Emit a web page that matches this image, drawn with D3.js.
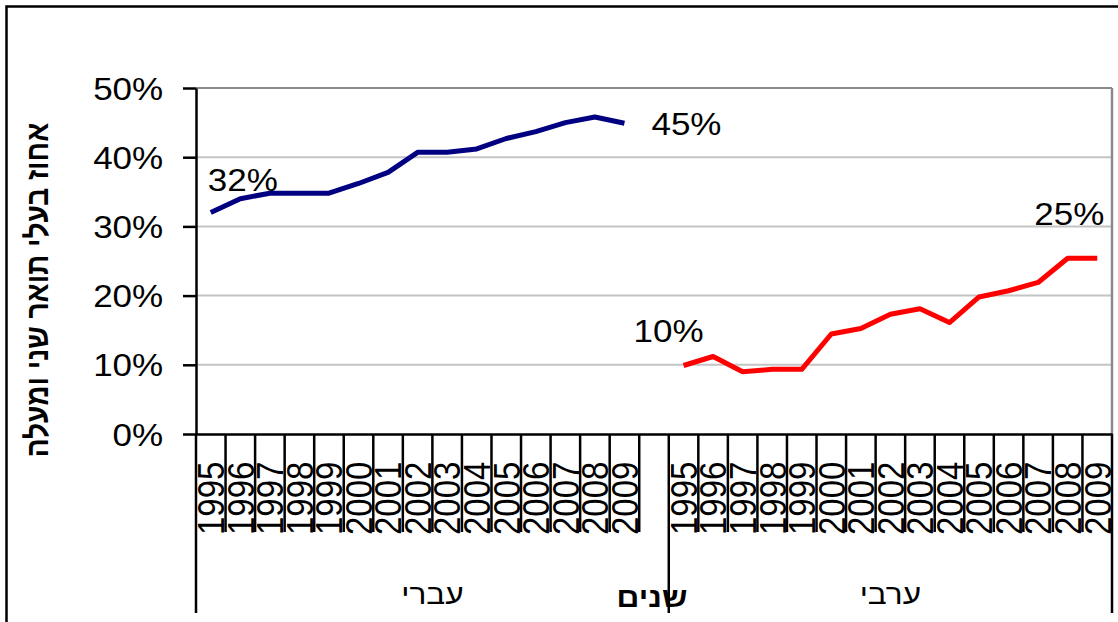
<!DOCTYPE html>
<html>
<head>
<meta charset="utf-8">
<script src="https://cdn.jsdelivr.net/npm/d3@7"></script>
<style>
  body { margin: 0; background: #fff; }
  text { font-family: "Liberation Sans", Arial, sans-serif; fill: #000; }
</style>
</head>
<body>
<div id="chart"></div>
<script>
// years on the category axis (same for both groups)
var years = ["1995","1996","1997","1998","1999","2000","2001","2002",
             "2003","2004","2005","2006","2007","2008","2009"];

// group names
var groupNames = ["עברי", "ערבי"];

// share with 2nd degree and above
var jewishValues = [0.320, 0.340, 0.348, 0.348, 0.348, 0.362, 0.378, 0.407,
                    0.407, 0.412, 0.427, 0.437, 0.450, 0.458, 0.449];
var arabValues   = [0.099, 0.112, 0.090, 0.0935, 0.0935, 0.1445, 0.1525, 0.173,
                    0.181, 0.161, 0.198, 0.207, 0.219, 0.254, 0.254];

var yTicks = [0, 0.1, 0.2, 0.3, 0.4, 0.5];

var yTitle = "אחוז בעלי תואר  שני ומעלה";
var xTitle = "שנים";

var W = 1118, H = 622;
var plot = {left: 196, right: 1112, top: 88, bottom: 434};
var sx = 1.13; // the reference is a bit wider than tall

var svg = d3.select("#chart").append("svg")
    .attr("width", W)
    .attr("height", H);

// outer chart border
svg.append("rect")
    .attr("x", 6.5).attr("y", 6.5)
    .attr("width", 1130).attr("height", 640)
    .attr("fill", "none")
    .attr("stroke", "#000")
    .attr("stroke-width", 2.5);

var keysJ = years.map(function(y) { return "J" + y; });
var keysA = years.map(function(y) { return "A" + y; });
var domain = keysJ.concat(["gap"]).concat(keysA);

var x = d3.scaleBand()
    .domain(domain)
    .range([plot.left, plot.right])
    .padding(0);

var y = d3.scaleLinear()
    .domain([0, 0.5])
    .range([plot.bottom, plot.top]);

var fmt = d3.format(".0%");

// gridlines
svg.append("g").selectAll("line")
    .data(yTicks.filter(function(d) { return d > 0; }))
    .enter().append("line")
    .attr("x1", plot.left).attr("x2", plot.right)
    .attr("y1", function(d) { return y(d); })
    .attr("y2", function(d) { return y(d); })
    .attr("stroke", function(d) { return d === 0.5 ? "#8a8a8a" : "#c4c4c4"; })
    .attr("stroke-width", 2);

// right plot border
svg.append("line")
    .attr("x1", plot.right).attr("x2", plot.right)
    .attr("y1", plot.top).attr("y2", plot.bottom)
    .attr("stroke", "#8a8a8a")
    .attr("stroke-width", 2.5);

// y axis
var yAxis = d3.axisLeft(y)
    .tickValues(yTicks)
    .tickFormat(fmt)
    .tickSize(13)
    .tickSizeOuter(0);

var gy = svg.append("g")
    .attr("transform", "translate(" + plot.left + ",0)")
    .call(yAxis);
gy.select(".domain").attr("stroke", "#000").attr("stroke-width", 2.5);
gy.selectAll(".tick line").attr("stroke", "#000").attr("stroke-width", 2.5);
gy.selectAll(".tick text")
    .attr("x", -29)
    .attr("dy", "0.36em")
    .attr("transform", "scale(" + sx + ",1)")
    .style("font-size", "31px")
    .style("font-family", "'Liberation Sans', Arial, sans-serif");

// x axis with year labels
var xAxis = d3.axisBottom(x)
    .tickSize(0)
    .tickSizeOuter(0)
    .tickFormat(function(k) { return k === "gap" ? "" : k.slice(1); });

var gx = svg.append("g")
    .attr("transform", "translate(0," + plot.bottom + ")")
    .call(xAxis);
gx.select(".domain").attr("stroke", "#000").attr("stroke-width", 2.5);
gx.selectAll(".tick text")
    .attr("x", 0).attr("y", 0)
    .attr("dy", "0.36em")
    .attr("text-anchor", "start")
    .attr("transform", "translate(0,101) scale(1.12,1) rotate(-90)")
    .style("font-size", "33px")
    .style("font-family", "'Liberation Sans', Arial, sans-serif");

// category separators
svg.append("g").selectAll("line")
    .data(domain.slice(1))
    .enter().append("line")
    .attr("x1", function(k) { return x(k); })
    .attr("x2", function(k) { return x(k); })
    .attr("y1", plot.bottom)
    .attr("y2", function(k) { return k === "A1995" ? 613 : 532; })
    .attr("stroke", "#000")
    .attr("stroke-width", 2.5);

// outer group boundaries
svg.append("g").selectAll("line")
    .data([plot.left, plot.right])
    .enter().append("line")
    .attr("x1", function(d) { return d; })
    .attr("x2", function(d) { return d; })
    .attr("y1", plot.bottom)
    .attr("y2", 613)
    .attr("stroke", "#000")
    .attr("stroke-width", 2.5);

// group labels
var groupCenters = [
    (x(keysJ[0]) + x("gap") + x.bandwidth()) / 2,
    (x(keysA[0]) + x(keysA[keysA.length - 1]) + x.bandwidth()) / 2
];
svg.append("g").selectAll("text")
    .data(groupNames)
    .enter().append("text")
    .attr("transform", function(d, i) {
        return "translate(" + groupCenters[i] + ",604) scale(" + sx + ",1)";
    })
    .attr("text-anchor", "middle")
    .style("font-size", "28px")
    .text(function(d) { return d; });

// x title
svg.append("text")
    .attr("transform", "translate(" + ((plot.left + plot.right) / 2 - 2) + ",607) scale(" + sx + ",1)")
    .attr("text-anchor", "middle")
    .style("font-size", "28px")
    .style("font-weight", "bold")
    .text(xTitle);

// y title
svg.append("text")
    .attr("transform", "translate(48,290) scale(" + sx + ",1) rotate(-90)")
    .attr("text-anchor", "middle")
    .style("font-size", "28px")
    .style("font-weight", "bold")
    .text(yTitle);

// lines
var line = d3.line()
    .x(function(d) { return x(d.key) + x.bandwidth() / 2; })
    .y(function(d) { return y(d.value); });

var series = [
    {name: "J", color: "#000080",
     points: keysJ.map(function(k, i) { return {key: k, value: jewishValues[i]}; })},
    {name: "A", color: "#ff0000",
     points: keysA.map(function(k, i) { return {key: k, value: arabValues[i]}; })}
];

svg.append("g").selectAll("path")
    .data(series)
    .enter().append("path")
    .attr("d", function(d) { return line(d.points); })
    .attr("fill", "none")
    .attr("stroke", function(d) { return d.color; })
    .attr("stroke-width", 5)
    .attr("stroke-linejoin", "round");

// data labels at first and last point of each series
var labelSpots = [
    {s: 0, i: 0, dx: 32, dy: -22},
    {s: 0, i: 14, dx: 62, dy: 12},
    {s: 1, i: 0, dx: -15, dy: -23},
    {s: 1, i: 14, dx: -28, dy: -33}
];
svg.append("g").selectAll("text")
    .data(labelSpots)
    .enter().append("text")
    .attr("transform", function(d) {
        var p = series[d.s].points[d.i];
        var px = x(p.key) + x.bandwidth() / 2 + d.dx;
        var py = y(p.value) + d.dy;
        return "translate(" + px + "," + py + ") scale(" + sx + ",1)";
    })
    .attr("text-anchor", "middle")
    .style("font-size", "31px")
    .text(function(d) { return fmt(series[d.s].points[d.i].value); });
</script>
</body>
</html>
